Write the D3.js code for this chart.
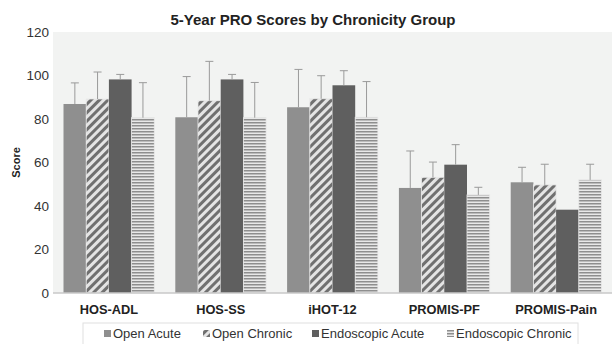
<!DOCTYPE html>
<html>
<head>
<meta charset="utf-8">
<script src="https://cdn.jsdelivr.net/npm/d3@7"></script>
<style>
  body { margin: 0; background: #fff; }
  svg { display: block; font-family: "Liberation Sans", Arial, sans-serif; }
</style>
</head>
<body>
<div id="chart"></div>
<script>
const categories = ["HOS-ADL", "HOS-SS", "iHOT-12", "PROMIS-PF", "PROMIS-Pain"];
const seriesNames = ["Open Acute", "Open Chronic", "Endoscopic Acute", "Endoscopic Chronic"];
const openAcute = [86.9, 80.8, 85.4, 48.3, 50.9];
const openChronic = [89.2, 88.4, 89.3, 53.2, 49.7];
const endoAcute = [98.2, 98.2, 95.5, 59.0, 38.3];
const endoChronic = [80.6, 80.6, 80.8, 45.1, 52.0];
const openAcuteErr = [96.6, 99.5, 102.8, 65.3, 57.8];
const openChronicErr = [101.6, 106.5, 99.9, 60.2, 59.2];
const endoAcuteErr = [100.5, 100.5, 102.2, 68.2, 38.3];
const endoChronicErr = [96.7, 96.8, 97.2, 48.6, 59.2];
const yTicks = [0, 20, 40, 60, 80, 100, 120];

const values = [openAcute, openChronic, endoAcute, endoChronic];
const errs = [openAcuteErr, openChronicErr, endoAcuteErr, endoChronicErr];

const W = 616, H = 344;
const margin = { top: 32, right: 4, bottom: 51, left: 53 };
const width = W - margin.left - margin.right;
const height = H - margin.top - margin.bottom;

const svg = d3.select("#chart").append("svg")
    .attr("width", W)
    .attr("height", H);

// patterns
const defs = svg.append("defs");
const diag = defs.append("pattern")
    .attr("id", "diag")
    .attr("patternUnits", "userSpaceOnUse")
    .attr("width", 6).attr("height", 6)
    .attr("patternTransform", "rotate(45)");
diag.append("rect").attr("width", 6).attr("height", 6).attr("fill", "#e4e4e4");
diag.append("rect").attr("width", 3).attr("height", 6).attr("fill", "#707070");

const horiz = defs.append("pattern")
    .attr("id", "horiz")
    .attr("patternUnits", "userSpaceOnUse")
    .attr("width", 4).attr("height", 3);
horiz.append("rect").attr("width", 4).attr("height", 3).attr("fill", "#e8e8e8");
horiz.append("rect").attr("width", 4).attr("height", 1.5).attr("fill", "#8e8e8e");

const fills = ["#8f8f8f", "url(#diag)", "#5f5f5f", "url(#horiz)"];

const g = svg.append("g").attr("transform", `translate(${margin.left},${margin.top})`);

g.append("rect")
    .attr("width", width)
    .attr("height", height)
    .attr("fill", "#f2f3f2");

const x0 = d3.scaleBand().domain(categories).range([0, width]).paddingInner(0.188).paddingOuter(0.094);
const x1 = d3.scaleBand().domain(d3.range(4)).range([0, x0.bandwidth()]);
const y = d3.scaleLinear().domain([0, 120]).range([height, 0]);

// y axis labels
g.append("g").selectAll("text")
    .data(yTicks)
    .join("text")
    .attr("x", -4)
    .attr("y", d => y(d))
    .attr("dy", "0.35em")
    .attr("text-anchor", "end")
    .attr("font-size", 13.5)
    .attr("fill", "#333")
    .text(d => d);

// bars
const groups = g.selectAll(".grp")
    .data(categories)
    .join("g")
    .attr("class", "grp")
    .attr("transform", d => `translate(${x0(d)},0)`);

groups.each(function (cat, ci) {
    const gg = d3.select(this);
    values.forEach((vals, si) => {
        gg.append("rect")
            .attr("x", x1(si))
            .attr("y", y(vals[ci]))
            .attr("width", x1.bandwidth())
            .attr("height", y(0) - y(vals[ci]))
            .attr("fill", fills[si])
            .attr("stroke", si === 1 || si === 3 ? "#e9e9e9" : "none")
            .attr("stroke-width", 0.8);
    });
    errs.forEach((e, si) => {
        const cx = x1(si) + x1.bandwidth() / 2;
        if (e[ci] - values[si][ci] < 0.5) return;
        gg.append("line")
            .attr("x1", cx).attr("x2", cx)
            .attr("y1", y(values[si][ci])).attr("y2", y(e[ci]))
            .attr("stroke", "#9a9a9a").attr("stroke-width", 1);
        gg.append("line")
            .attr("x1", cx - 4).attr("x2", cx + 4)
            .attr("y1", y(e[ci])).attr("y2", y(e[ci]))
            .attr("stroke", "#9a9a9a").attr("stroke-width", 1);
    });
});

// baseline
g.append("line")
    .attr("x1", 0).attr("x2", width)
    .attr("y1", height).attr("y2", height)
    .attr("stroke", "#c8c8c8").attr("stroke-width", 1.5);

// category labels
g.append("g").selectAll("text")
    .data(categories)
    .join("text")
    .attr("x", d => x0(d) + x0.bandwidth() / 2)
    .attr("y", height + 21)
    .attr("text-anchor", "middle")
    .attr("font-size", 12.8)
    .attr("font-weight", "bold")
    .attr("fill", "#222")
    .text(d => d);

// title
svg.append("text")
    .attr("x", 313)
    .attr("y", 25)
    .attr("text-anchor", "middle")
    .attr("font-size", 15)
    .attr("font-weight", "bold")
    .attr("fill", "#222")
    .text("5-Year PRO Scores by Chronicity Group");

// y axis title
svg.append("text")
    .attr("transform", `translate(20,${margin.top + height / 2}) rotate(-90)`)
    .attr("text-anchor", "middle")
    .attr("font-size", 11)
    .attr("font-weight", "bold")
    .attr("fill", "#222")
    .text("Score");

// legend
const legend = svg.append("g");
legend.append("rect")
    .attr("x", 83).attr("y", 323)
    .attr("width", 495).attr("height", 24)
    .attr("fill", "#fff")
    .attr("stroke", "#e0e0e0");

const legX = [104, 203, 312, 447];
seriesNames.forEach((name, i) => {
    legend.append("rect")
        .attr("x", legX[i]).attr("y", 330)
        .attr("width", 7).attr("height", 7)
        .attr("fill", fills[i]);
    legend.append("text")
        .attr("x", legX[i] + 9)
        .attr("y", 338)
        .attr("font-size", 13)
        .attr("fill", "#333")
        .text(name);
});
</script>
</body>
</html>
